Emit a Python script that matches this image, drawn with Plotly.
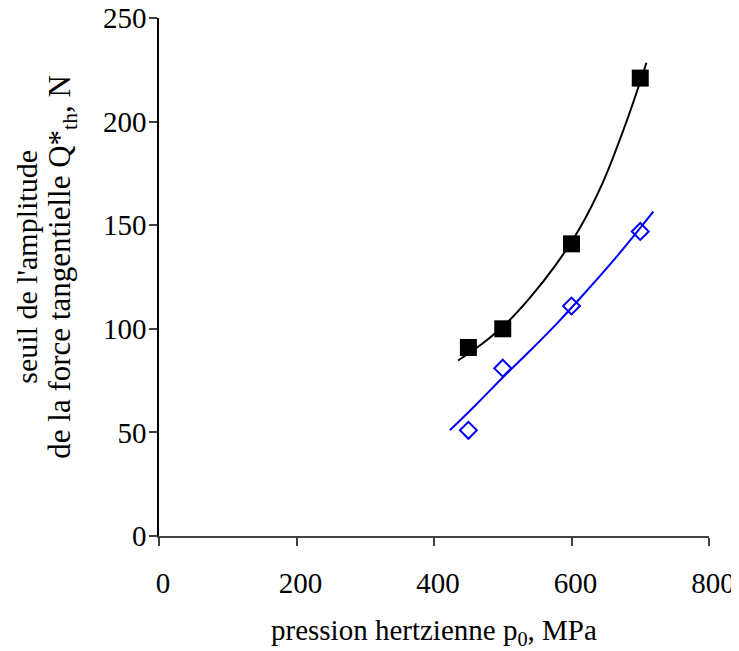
import plotly.graph_objects as go

# Measured points
pressure = [450, 500, 600, 700]
seuil_black = [91, 100, 141, 221]
seuil_blue = [51, 81, 111, 147]

# Trend curves
trend_black_x = [435, 470, 505, 540, 575, 610, 645, 680, 709]
trend_black_y = [84.7, 92.8, 102.6, 115.2, 129.9, 147.4, 170.2, 200, 228.4]
trend_blue_x = [423, 460, 500, 540, 580, 620, 670, 719]
trend_blue_y = [51, 63, 76.5, 89.5, 103, 117.5, 136.5, 156.5]

x_ticks = [0, 200, 400, 600, 800]
y_ticks = [0, 50, 100, 150, 200, 250]

x_title = "pression hertzienne p<sub>0</sub>, MPa"
y_title_1 = "seuil de l'amplitude"
y_title_2 = "de la force tangentielle Q*<sub>th</sub>, N"

FONT = "Liberation Serif"

fig = go.Figure()
fig.add_trace(go.Scatter(x=trend_black_x, y=trend_black_y, mode="lines",
                         line=dict(color="black", width=2, shape="spline", smoothing=1),
                         showlegend=False, hoverinfo="skip"))
fig.add_trace(go.Scatter(x=trend_blue_x, y=trend_blue_y, mode="lines",
                         line=dict(color="#0000FF", width=2, shape="spline", smoothing=1),
                         showlegend=False, hoverinfo="skip"))
fig.add_trace(go.Scatter(x=pressure, y=seuil_black, mode="markers",
                         marker=dict(symbol="square", size=17, color="black",
                                     line=dict(width=0)),
                         showlegend=False))
fig.add_trace(go.Scatter(x=pressure, y=seuil_blue, mode="markers",
                         marker=dict(symbol="diamond-open", size=13, color="#0000FF",
                                     line=dict(width=2, color="#0000FF")),
                         showlegend=False))

fig.update_layout(
    width=731, height=643,
    margin=dict(l=151, r=30, t=10, b=115),
    paper_bgcolor="white", plot_bgcolor="white",
    font=dict(family=FONT, color="black"),
    xaxis=dict(range=[0, 800], tickvals=x_ticks, showgrid=False, zeroline=False,
               showline=True, linecolor="#404040", linewidth=1.5, automargin=False,
               ticks="outside", ticklen=8, tickwidth=1.5, tickcolor="#404040",
               tickfont=dict(size=29, family=FONT), ticklabelstandoff=12,
               ticklabelshift=4, ticklabeloverflow="allow"),
    yaxis=dict(range=[0, 250], tickvals=y_ticks, showgrid=False, zeroline=False,
               showline=True, linecolor="black", linewidth=1.5, automargin=False,
               ticks="outside", ticklen=8, tickwidth=1.5, tickcolor="#404040",
               tickfont=dict(size=29, family=FONT), ticklabelstandoff=-3,
               ticklabeloverflow="allow"),
    annotations=[
        dict(text=x_title, xref="paper", yref="paper", x=0.5, y=-0.1858,
             xanchor="center", yanchor="middle", showarrow=False,
             font=dict(size=29, family=FONT)),
        dict(text=y_title_1, xref="paper", yref="paper", x=-0.2399, y=0.52,
             xanchor="center", yanchor="middle", textangle=-90, showarrow=False,
             font=dict(size=30, family=FONT)),
        dict(text=y_title_2, xref="paper", yref="paper", x=-0.1763, y=0.52,
             xanchor="center", yanchor="middle", textangle=-90, showarrow=False,
             font=dict(size=31, family=FONT)),
    ],
)

fig.write_html("out.html")
